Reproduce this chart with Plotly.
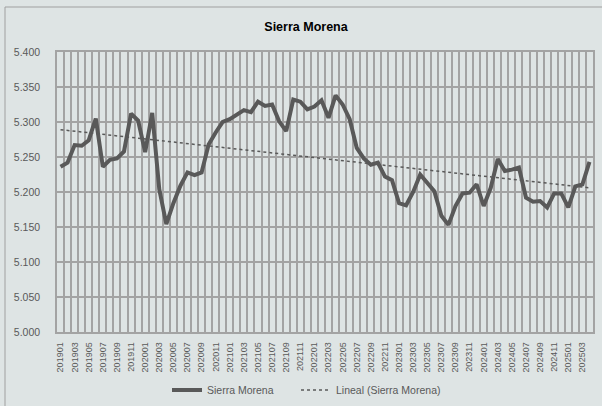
import numpy as np
import plotly.graph_objects as go

# Monthly categories 201901 .. 202504
months = [f"{y}{m:02d}" for y in range(2019, 2026) for m in range(1, 13)]
months = months[: months.index("202504") + 1]

values = [
    5236, 5242, 5267, 5266, 5274, 5305, 5236, 5246, 5248, 5258,
    5312, 5302, 5257, 5313, 5204, 5154, 5184, 5209, 5228, 5224,
    5228, 5268, 5285, 5300, 5304, 5311, 5317, 5314, 5329, 5323,
    5325, 5301, 5287, 5332, 5329, 5318, 5322, 5331, 5306, 5338,
    5325, 5304, 5263, 5248, 5239, 5242, 5222, 5217, 5184, 5181,
    5200, 5225, 5212, 5201, 5166, 5153, 5180, 5198, 5199, 5211,
    5180, 5206, 5247, 5230, 5232, 5235, 5192, 5186, 5187, 5178,
    5198, 5198, 5178, 5208, 5211, 5243,
]

series_name = "Sierra Morena"
trend_name = "Lineal (Sierra Morena)"
title_text = "Sierra Morena"

idx = np.arange(len(values))
slope, intercept = np.polyfit(idx, values, 1)
trend = intercept + slope * idx

tick_idx = list(range(0, len(months), 2))
tick_txt = [months[i] for i in tick_idx]

GRAY_TXT = "#595959"
GRID = "#a3a3a3"
FONT = "Liberation Sans, Arial, sans-serif"

fig = go.Figure()
fig.add_trace(go.Scatter(
    x=idx, y=values, mode="lines", name=series_name, legend="legend",
    line=dict(color="#595959", width=4),
))
fig.add_trace(go.Scatter(
    x=idx, y=trend, mode="lines", name=trend_name, legend="legend2",
    line=dict(color="#595959", width=1.5, dash="dot"),
))

legend_common = dict(
    orientation="h", xanchor="left", xref="container",
    y=1 - 390 / 406, yanchor="middle", yref="container",
    font=dict(family=FONT, size=10.5, color=GRAY_TXT),
    bgcolor="rgba(0,0,0,0)",
)

fig.update_layout(
    width=602, height=406,
    margin=dict(l=57, r=9, t=52, b=74, autoexpand=False),
    paper_bgcolor="#dee4e4",
    plot_bgcolor="rgba(0,0,0,0)",
    separators=",.",
    title=dict(
        text="<b>" + title_text + "</b>",
        font=dict(family=FONT, size=12.5, color="#000000"),
        x=306 / 602, xanchor="center", xref="container",
        y=1 - 27 / 406, yanchor="middle", yref="container",
    ),
    showlegend=True,
    legend=dict(x=167 / 602, **legend_common),
    legend2=dict(x=296 / 602, **legend_common),
    xaxis=dict(
        range=[-0.5, len(values) - 0.5], automargin=False,
        tickmode="array", tickvals=tick_idx, ticktext=tick_txt,
        tickangle=-90, showgrid=False, zeroline=False,
        tickfont=dict(family=FONT, size=9, color=GRAY_TXT),
        ticks="", ticklabelstandoff=5,
        showline=True, linecolor=GRID, linewidth=1.5, mirror=True,
        minor=dict(tick0=-0.5, dtick=1, showgrid=True, gridcolor=GRID, gridwidth=1.5, ticks=""),
    ),
    yaxis=dict(
        range=[5000, 5400], dtick=50, tick0=5000, tickformat=",d", automargin=False,
        showgrid=True, gridcolor=GRID, gridwidth=1.5, zeroline=False,
        tickfont=dict(family=FONT, size=10.5, color=GRAY_TXT),
        ticks="", ticklabelstandoff=13,
        showline=True, linecolor=GRID, linewidth=1.5, mirror=True,
    ),
    shapes=[
        dict(type="rect", xref="paper", yref="paper",
             x0=(5 - 57) / 536, x1=1.2, y0=-0.5, y1=1 + (52 - 7) / 280,
             line=dict(color="#a0a0a0", width=1), fillcolor="rgba(0,0,0,0)", layer="below"),
    ],
)

fig.write_html(
    "out.html",
    config={"displayModeBar": False},
    post_script="document.body.style.margin='0px';",
)
